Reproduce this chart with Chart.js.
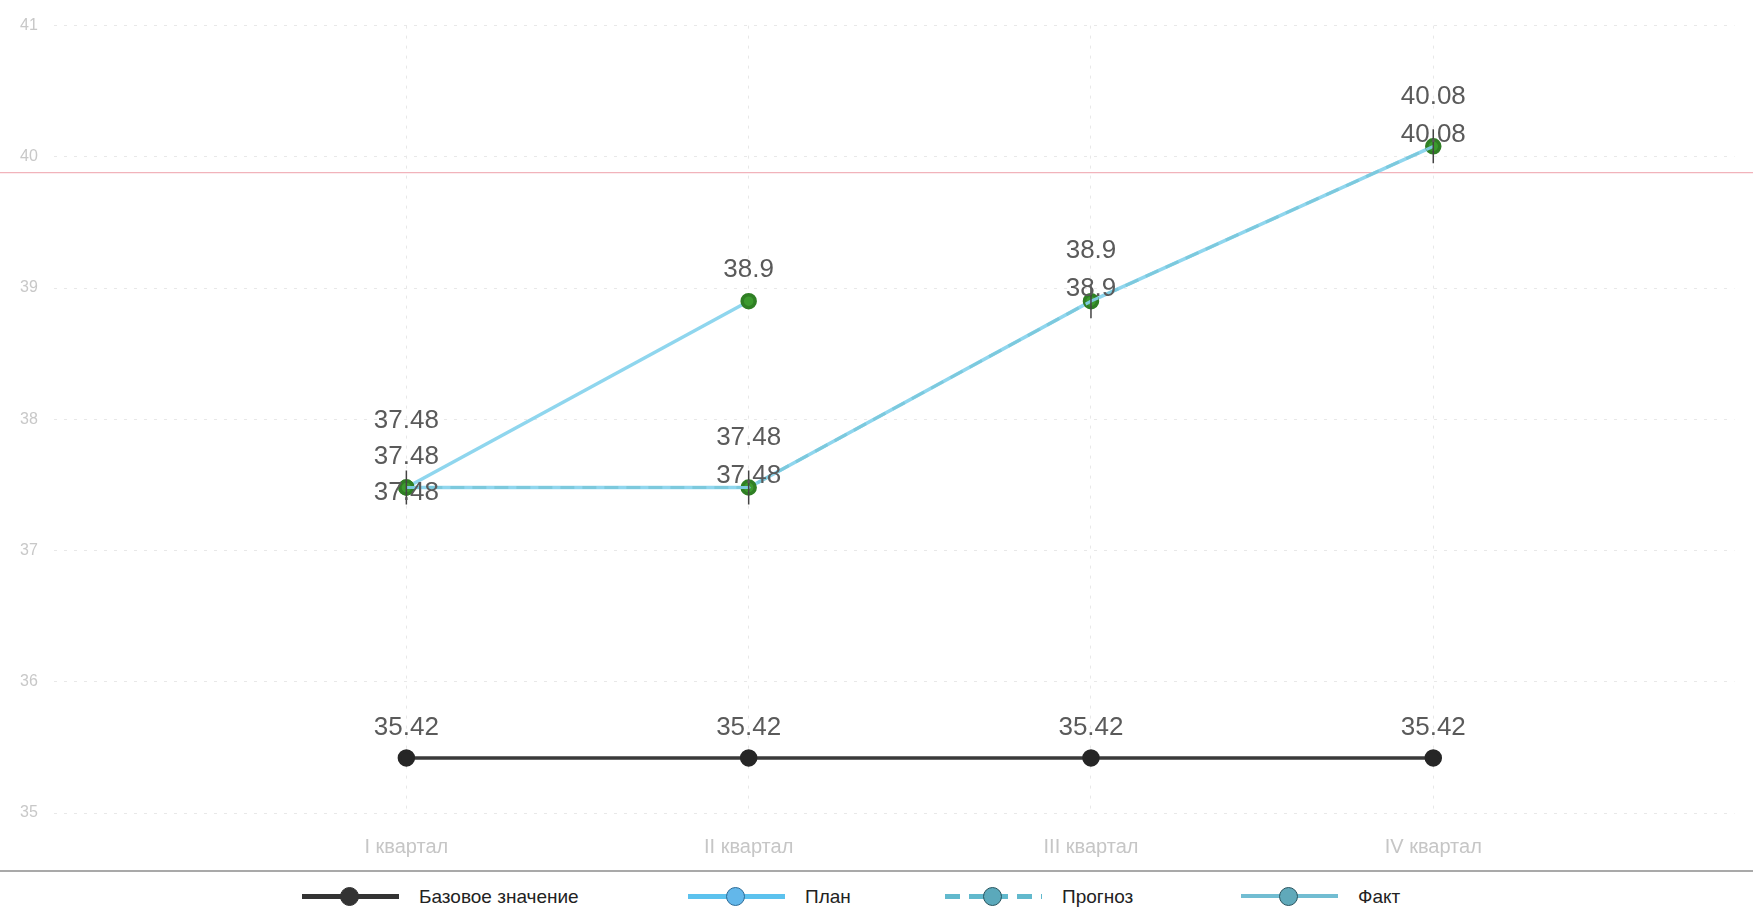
<!DOCTYPE html>
<html lang="ru">
<head>
  <meta charset="UTF-8" />
  <title>Показатель по кварталам</title>
  <script src="https://cdn.jsdelivr.net/npm/chart.js@4.4.1/dist/chart.umd.min.js"></script>
  <style>
    body {
      margin: 0;
      background: #fff;
      font-family: 'Liberation Sans', Arial, sans-serif;
      overflow: hidden;
    }
    .chart-box {
      position: relative;
      width: 1753px;
      height: 870px;
    }
    .legend {
      position: relative;
      width: 1753px;
      height: 42px;
      border-top: 2px solid #a9a9a9;
    }
    .item {
      position: absolute;
      top: 14px;
      display: flex;
      align-items: center;
      font-size: 19px;
      color: #222;
    }
    .icon {
      position: relative;
      width: 97px;
      height: 22px;
      margin-right: 20px;
    }
    .icon .ln {
      position: absolute;
      left: 0;
      right: 0;
      top: 8px;
      height: 5px;
    }
    .icon .dot {
      position: absolute;
      left: 38px;
      top: 1px;
      width: 17px;
      height: 17px;
      border-radius: 50%;
      border: 1.5px solid;
    }
  </style>
</head>
<body>
  <div class="chart-box">
    <canvas id="chart"></canvas>
  </div>

  <!-- легенда -->
  <div class="legend">
    <div class="item" style="left:302px">
      <span class="icon"><span class="ln" style="background:#333"></span><span class="dot" style="background:#333;border-color:#333"></span></span>
      Базовое значение
    </div>
    <div class="item" style="left:688px">
      <span class="icon"><span class="ln" style="background:#5cc2ee"></span><span class="dot" style="background:#63b7ea;border-color:#2c6c98"></span></span>
      План
    </div>
    <div class="item" style="left:945px">
      <span class="icon"><span class="ln" style="background:repeating-linear-gradient(90deg,#62b9cd 0 15px,transparent 15px 24px)"></span><span class="dot" style="background:#5ba9bb;border-color:#27555f"></span></span>
      Прогноз
    </div>
    <div class="item" style="left:1241px">
      <span class="icon"><span class="ln" style="height:4px;background:#72bdd2"></span><span class="dot" style="background:#60a9ba;border-color:#2a5560"></span></span>
      Факт
    </div>
  </div>

  <script>
    const quarters = ['I квартал', 'II квартал', 'III квартал', 'IV квартал'];
    const baseValues = [35.42, 35.42, 35.42, 35.42];
    const planValues = [37.48, 38.9, null, null];
    const forecastValues = [37.48, 37.48, 38.9, 40.08];
    const factValues = [37.48, 37.48, 38.9, 40.08];
    const yTicks = [35, 36, 37, 38, 39, 40, 41];
    const targetLevel = 39.88;

    const toPoints = vals => quarters.map((q, i) => ({ x: i + 1, y: vals[i] }));

    // подписи значений над точками, раздвигаются если налезают
    const valueLabels = {
      id: 'valueLabels',
      afterDatasetsDraw(chart) {
        const ctx = chart.ctx;
        const groups = {};
        chart.data.datasets.forEach((ds, di) => {
          const meta = chart.getDatasetMeta(di);
          meta.data.forEach((pt, i) => {
            const v = ds.data[i].y;
            if (v == null) return;
            (groups[i] = groups[i] || []).push({ x: pt.x, y: pt.y + ds.labelOffset, text: String(v) });
          });
        });
        const gap = 36;
        ctx.save();
        ctx.font = '26px "Liberation Sans", Arial, sans-serif';
        ctx.fillStyle = '#5a5a5a';
        ctx.textAlign = 'center';
        ctx.textBaseline = 'middle';
        Object.values(groups).forEach(list => {
          list.sort((a, b) => a.y - b.y);
          const clusters = [];
          list.forEach(l => {
            const last = clusters[clusters.length - 1];
            if (last && l.y - last[last.length - 1].y < gap) last.push(l);
            else clusters.push([l]);
          });
          clusters.forEach(c => {
            const mean = c.reduce((s, l) => s + l.y, 0) / c.length;
            c.forEach((l, k) => {
              const y = c.length > 1 ? mean + (k - (c.length - 1) / 2) * gap : l.y;
              ctx.fillText(l.text, l.x, y);
            });
          });
        });
        ctx.restore();
      }
    };

    const targetLine = {
      id: 'targetLine',
      beforeDatasetsDraw(chart) {
        const ctx = chart.ctx;
        const y = chart.scales.y.getPixelForValue(targetLevel);
        ctx.save();
        ctx.strokeStyle = '#f1b3bb';
        ctx.lineWidth = 1.2;
        ctx.beginPath();
        ctx.moveTo(0, y);
        ctx.lineTo(chart.width, y);
        ctx.stroke();
        ctx.restore();
      }
    };

    const ctx = document.getElementById('chart').getContext('2d');
    new Chart(ctx, {
      type: 'line',
      data: {
        datasets: [
          {
            label: 'Прогноз',
            data: toPoints(forecastValues),
            borderColor: '#7cc9dd',
            borderWidth: 3,
            borderDash: [14, 8],
            pointStyle: 'line',
            rotation: 90,
            pointRadius: 17,
            pointBorderColor: '#444',
            pointBorderWidth: 1.5,
            labelOffset: -50,
            order: 0
          },
          {
            label: 'Факт',
            data: toPoints(factValues),
            borderColor: '#8fd6ee',
            borderWidth: 3.5,
            pointRadius: 6.5,
            pointBackgroundColor: '#3c9a2e',
            pointBorderColor: '#2f7f24',
            labelOffset: -12,
            order: 1
          },
          {
            label: 'План',
            data: toPoints(planValues),
            borderColor: '#8fd6ee',
            borderWidth: 3.5,
            pointRadius: 6.5,
            pointBackgroundColor: '#3c9a2e',
            pointBorderColor: '#2f7f24',
            labelOffset: -31,
            order: 2
          },
          {
            label: 'Базовое значение',
            data: toPoints(baseValues),
            borderColor: '#3a3a3a',
            borderWidth: 3.5,
            pointRadius: 7,
            pointBackgroundColor: '#262626',
            pointBorderColor: '#262626',
            labelOffset: -30,
            order: 3
          }
        ]
      },
      options: {
        responsive: true,
        maintainAspectRatio: false,
        animation: false,
        layout: { padding: { left: 4, right: 0, top: 19, bottom: 12 } },
        scales: {
          x: {
            type: 'linear',
            min: -0.03,
            max: 4.88,
            afterBuildTicks: axis => { axis.ticks = quarters.map((q, i) => ({ value: i + 1 })); },
            afterFit: axis => { axis.height = 45; },
            ticks: {
              callback: (v, i) => quarters[i],
              color: '#c6c6c6',
              font: { family: '"Liberation Sans Narrow", "Liberation Sans", sans-serif', size: 20 },
              padding: 22,
              maxRotation: 0
            },
            grid: { color: '#e8e8e8', lineWidth: 1, drawTicks: false },
            border: { display: false, dash: [3, 7] }
          },
          y: {
            min: 35,
            max: 41,
            afterBuildTicks: axis => { axis.ticks = yTicks.map(v => ({ value: v })); },
            ticks: {
              color: '#c8c8c8',
              font: { family: '"Liberation Sans", sans-serif', size: 16 },
              padding: 16
            },
            grid: { color: '#e8e8e8', lineWidth: 1, drawTicks: false },
            border: { display: false, dash: [3, 7] }
          }
        },
        plugins: {
          legend: { display: false },
          tooltip: { enabled: false }
        }
      },
      plugins: [targetLine, valueLabels]
    });
  </script>
</body>
</html>
